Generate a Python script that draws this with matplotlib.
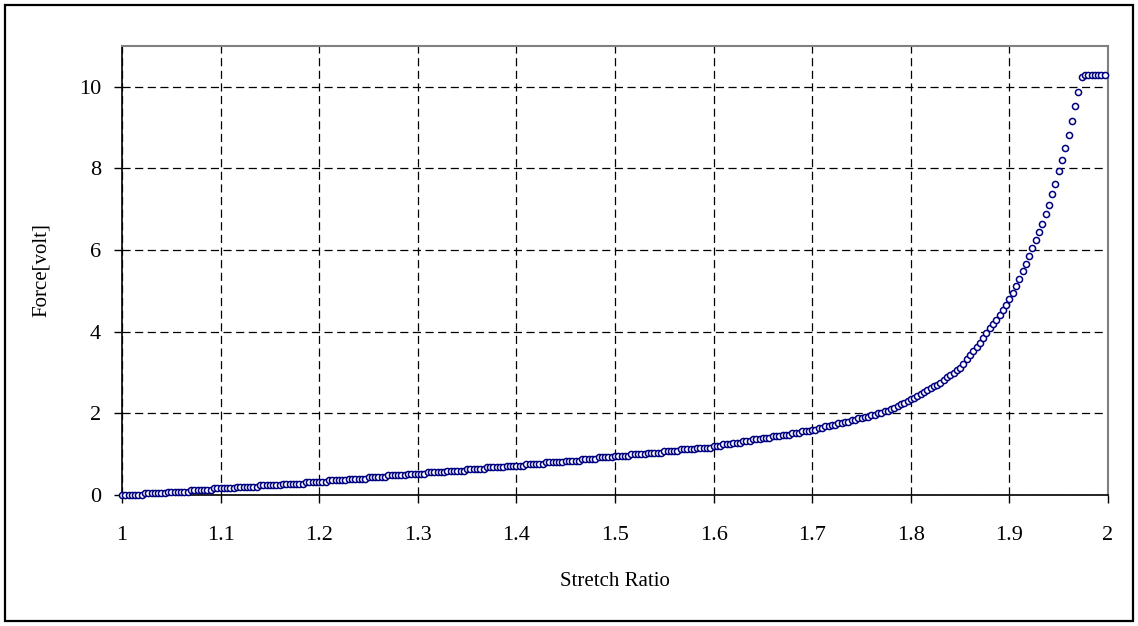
import numpy as np
import matplotlib.pyplot as plt
from matplotlib.patches import Rectangle

plt.rcParams['font.family'] = ['Liberation Serif', 'DejaVu Serif']

# stretch ratio samples (300 readings, step 1/300)
x_start = 1.0
x_step = 1 / 300

# force readings [volt]
force = [
    0.00, 0.00, 0.00, 0.00, 0.00, 0.00, 0.00, 0.04, 0.04, 0.04,
    0.04, 0.04, 0.04, 0.04, 0.08, 0.08, 0.08, 0.08, 0.08, 0.08,
    0.08, 0.12, 0.12, 0.12, 0.12, 0.12, 0.12, 0.12, 0.16, 0.16,
    0.16, 0.16, 0.16, 0.16, 0.16, 0.20, 0.20, 0.20, 0.20, 0.20,
    0.20, 0.20, 0.24, 0.24, 0.24, 0.24, 0.24, 0.24, 0.24, 0.28,
    0.28, 0.28, 0.28, 0.28, 0.28, 0.28, 0.32, 0.32, 0.32, 0.32,
    0.32, 0.32, 0.32, 0.36, 0.36, 0.36, 0.36, 0.36, 0.36, 0.40,
    0.40, 0.40, 0.40, 0.40, 0.40, 0.44, 0.44, 0.44, 0.44, 0.44,
    0.44, 0.48, 0.48, 0.48, 0.48, 0.48, 0.48, 0.52, 0.52, 0.52,
    0.52, 0.52, 0.52, 0.56, 0.56, 0.56, 0.56, 0.56, 0.56, 0.60,
    0.60, 0.60, 0.60, 0.60, 0.60, 0.64, 0.64, 0.64, 0.64, 0.64,
    0.64, 0.68, 0.68, 0.68, 0.68, 0.68, 0.68, 0.72, 0.72, 0.72,
    0.72, 0.72, 0.72, 0.76, 0.76, 0.76, 0.76, 0.76, 0.76, 0.80,
    0.80, 0.80, 0.80, 0.80, 0.80, 0.84, 0.84, 0.84, 0.84, 0.84,
    0.88, 0.88, 0.88, 0.88, 0.88, 0.92, 0.92, 0.92, 0.92, 0.92,
    0.96, 0.96, 0.96, 0.96, 0.96, 1.00, 1.00, 1.00, 1.00, 1.00,
    1.04, 1.04, 1.04, 1.04, 1.04, 1.08, 1.08, 1.08, 1.08, 1.08,
    1.12, 1.12, 1.12, 1.12, 1.12, 1.16, 1.16, 1.16, 1.16, 1.16,
    1.20, 1.20, 1.20, 1.24, 1.24, 1.24, 1.28, 1.28, 1.28, 1.32,
    1.32, 1.32, 1.36, 1.36, 1.36, 1.40, 1.40, 1.40, 1.44, 1.44,
    1.44, 1.48, 1.48, 1.48, 1.52, 1.52, 1.52, 1.56, 1.56, 1.56,
    1.60, 1.60, 1.64, 1.64, 1.68, 1.68, 1.72, 1.72, 1.76, 1.76,
    1.80, 1.80, 1.84, 1.84, 1.88, 1.88, 1.90, 1.92, 1.95, 1.97,
    2.00, 2.02, 2.05, 2.07, 2.10, 2.14, 2.18, 2.22, 2.26, 2.30,
    2.34, 2.38, 2.42, 2.47, 2.52, 2.57, 2.62, 2.66, 2.70, 2.75,
    2.82, 2.88, 2.94, 3.00, 3.06, 3.12, 3.22, 3.32, 3.42, 3.52,
    3.62, 3.73, 3.85, 3.97, 4.09, 4.19, 4.29, 4.40, 4.53, 4.66,
    4.80, 4.95, 5.12, 5.30, 5.48, 5.66, 5.85, 6.04, 6.24, 6.44,
    6.65, 6.88, 7.11, 7.38, 7.62, 7.93, 8.20, 8.51, 8.82, 9.17,
    9.52, 9.87, 10.25, 10.29, 10.29, 10.29, 10.29, 10.29, 10.29, 10.29,
]
stretch = x_start + x_step * np.arange(len(force))

x_ticks = [1, 1.1, 1.2, 1.3, 1.4, 1.5, 1.6, 1.7, 1.8, 1.9, 2]
x_labels = ['1', '1.1', '1.2', '1.3', '1.4', '1.5', '1.6', '1.7', '1.8', '1.9', '2']
y_ticks = [0, 2, 4, 6, 8, 10]

fig = plt.figure(figsize=(11.38, 6.26), dpi=100)
fig.patches.append(Rectangle((5 / 1138, 5 / 626), 1128 / 1138, 616 / 626,
                             transform=fig.transFigure, fill=False,
                             edgecolor='black', linewidth=1.6))
ax = fig.add_axes([122 / 1138, 1 - 495 / 626, 986 / 1138, 449 / 626])

ax.plot(stretch, force, linestyle='none', marker='o', markersize=4.4,
        markerfacecolor='white', markeredgecolor='#000080', markeredgewidth=1.1,
        clip_on=False, zorder=3)

ax.set_xlim(1, 2)
ax.set_ylim(0, 11)
ax.set_xticks(x_ticks)
ax.set_xticklabels(x_labels)
ax.set_yticks(y_ticks)
ax.tick_params(axis='both', direction='out', length=6, width=1, labelsize=16, colors='black')
ax.tick_params(axis='x', pad=16)
ax.tick_params(axis='y', pad=9)

ax.grid(True, color='black', linestyle=(0, (6.5, 3.6)), linewidth=0.9)
ax.set_axisbelow(True)

for side in ['top', 'right']:
    ax.spines[side].set_color('#808080')
    ax.spines[side].set_linewidth(1.5)
for side in ['left', 'bottom']:
    ax.spines[side].set_color('black')
    ax.spines[side].set_linewidth(1.2)

ax.set_xlabel('Stretch Ratio', fontsize=15, labelpad=20)
ax.set_ylabel('Force[volt]', fontsize=15, labelpad=20)

fig.savefig('out.png', dpi=100)
